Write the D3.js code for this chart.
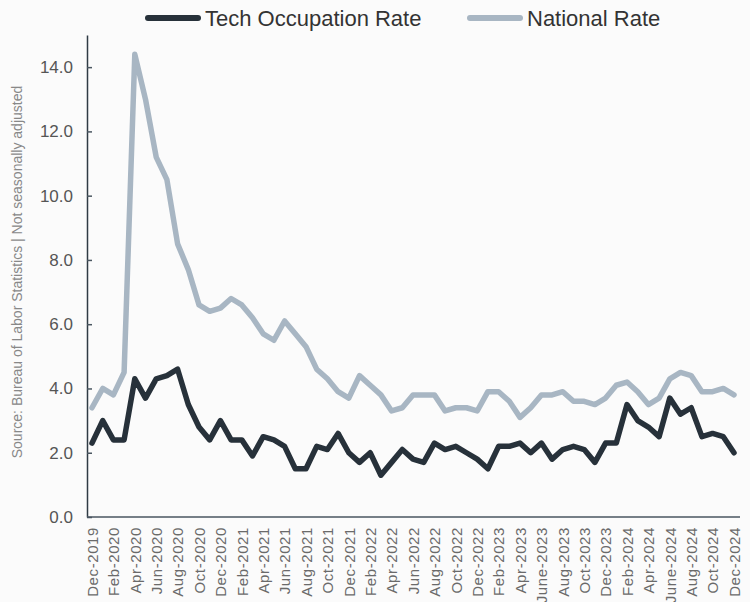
<!DOCTYPE html>
<html>
<head>
<meta charset="utf-8">
<style>
  body { margin: 0; background-color: #fbfbfb; }
  svg { display: block; font-family: "Liberation Sans", Arial, sans-serif; }
</style>
<script src="https://cdn.jsdelivr.net/npm/d3@7"></script>
</head>
<body>
<script>
// monthly, Dec-2019 .. Dec-2024
var months = ["Dec-2019",
  "Jan-2020","Feb-2020","Mar-2020","Apr-2020","May-2020","Jun-2020","Jul-2020","Aug-2020","Sep-2020","Oct-2020","Nov-2020","Dec-2020",
  "Jan-2021","Feb-2021","Mar-2021","Apr-2021","May-2021","Jun-2021","Jul-2021","Aug-2021","Sep-2021","Oct-2021","Nov-2021","Dec-2021",
  "Jan-2022","Feb-2022","Mar-2022","Apr-2022","May-2022","Jun-2022","Jul-2022","Aug-2022","Sep-2022","Oct-2022","Nov-2022","Dec-2022",
  "Jan-2023","Feb-2023","Mar-2023","Apr-2023","May-2023","June-2023","Jul-2023","Aug-2023","Sep-2023","Oct-2023","Nov-2023","Dec-2023",
  "Jan-2024","Feb-2024","Mar-2024","Apr-2024","May-2024","June-2024","Jul-2024","Aug-2024","Sep-2024","Oct-2024","Nov-2024","Dec-2024"];

var techRate = [2.3,
  3.0,2.4,2.4,4.3,3.7,4.3,4.4,4.6,3.5,2.8,2.4,3.0,
  2.4,2.4,1.9,2.5,2.4,2.2,1.5,1.5,2.2,2.1,2.6,2.0,
  1.7,2.0,1.3,1.7,2.1,1.8,1.7,2.3,2.1,2.2,2.0,1.8,
  1.5,2.2,2.2,2.3,2.0,2.3,1.8,2.1,2.2,2.1,1.7,2.3,
  2.3,3.5,3.0,2.8,2.5,3.7,3.2,3.4,2.5,2.6,2.5,2.0];

var nationalRate = [3.4,
  4.0,3.8,4.5,14.4,13.0,11.2,10.5,8.5,7.7,6.6,6.4,6.5,
  6.8,6.6,6.2,5.7,5.5,6.1,5.7,5.3,4.6,4.3,3.9,3.7,
  4.4,4.1,3.8,3.3,3.4,3.8,3.8,3.8,3.3,3.4,3.4,3.3,
  3.9,3.9,3.6,3.1,3.4,3.8,3.8,3.9,3.6,3.6,3.5,3.7,
  4.1,4.2,3.9,3.5,3.7,4.3,4.5,4.4,3.9,3.9,4.0,3.8];

var yTicks = [0, 2, 4, 6, 8, 10, 12, 14];

var w = 750, h = 602;
var svg = d3.select("body").append("svg")
  .attr("width", w)
  .attr("height", h);

var x = d3.scalePoint()
  .domain(months)
  .range([92, 734]);

var y = d3.scaleLinear()
  .domain([0, 15])
  .range([517, 35]);

// y axis
var yAxis = svg.append("g")
  .attr("transform", "translate(87,0)")
  .call(d3.axisLeft(y).tickValues(yTicks).tickFormat(d3.format(".1f")).tickSize(5).tickSizeOuter(0));
yAxis.select(".domain").attr("stroke", "#2f3b44").attr("stroke-width", 1.5);
yAxis.selectAll(".tick line").attr("x2", 5).attr("stroke", "#4a5660").attr("stroke-width", 1.5);
yAxis.selectAll(".tick text")
  .attr("x", -14)
  .attr("fill", "#555")
  .style("font-size", "17px");

// x axis
var xAxis = svg.append("g")
  .attr("transform", "translate(0,517)")
  .call(d3.axisBottom(x).tickValues(months.filter(function (d, i) { return i % 2 == 0; })).tickSize(0).tickSizeOuter(0));
xAxis.select(".domain").attr("d", "M87,0H740").attr("stroke", "#4a5660").attr("stroke-width", 1.5);
xAxis.selectAll(".tick text")
  .attr("transform", "rotate(-90)")
  .attr("x", -10)
  .attr("y", 0)
  .attr("dy", "0.35em")
  .attr("text-anchor", "end")
  .attr("fill", "#6a6a6a")
  .style("font-size", "15px")
  .style("letter-spacing", "0.6px");

// lines
var line = function (vals) {
  return d3.line()
    .x(function (d, i) { return x(months[i]); })
    .y(function (d) { return y(d); })(vals);
};

svg.append("path")
  .attr("d", line(nationalRate))
  .attr("fill", "none")
  .attr("stroke", "#a8b6c3")
  .attr("stroke-width", 5.5)
  .attr("stroke-linejoin", "round")
  .attr("stroke-linecap", "round");

svg.append("path")
  .attr("d", line(techRate))
  .attr("fill", "none")
  .attr("stroke", "#27313a")
  .attr("stroke-width", 5.5)
  .attr("stroke-linejoin", "round")
  .attr("stroke-linecap", "round");

// legend
var legend = [
  { name: "Tech Occupation Rate", color: "#27313a", x: 148 },
  { name: "National Rate", color: "#a8b6c3", x: 470 }
];
var lg = svg.selectAll(".legend").data(legend).enter().append("g")
  .attr("transform", function (d) { return "translate(" + d.x + ",18)"; });
lg.append("line")
  .attr("x1", 0).attr("x2", 50)
  .attr("stroke", function (d) { return d.color; })
  .attr("stroke-width", 6)
  .attr("stroke-linecap", "round");
lg.append("text")
  .attr("x", 57)
  .attr("dy", "0.35em")
  .attr("fill", "#333")
  .style("font-size", "22px")
  .text(function (d) { return d.name; });

// source label
svg.append("text")
  .attr("transform", "translate(22,272) rotate(-90)")
  .attr("text-anchor", "middle")
  .attr("fill", "#888")
  .style("font-size", "14px")
  .text("Source: Bureau of Labor Statistics | Not seasonally adjusted");
</script>
</body>
</html>
